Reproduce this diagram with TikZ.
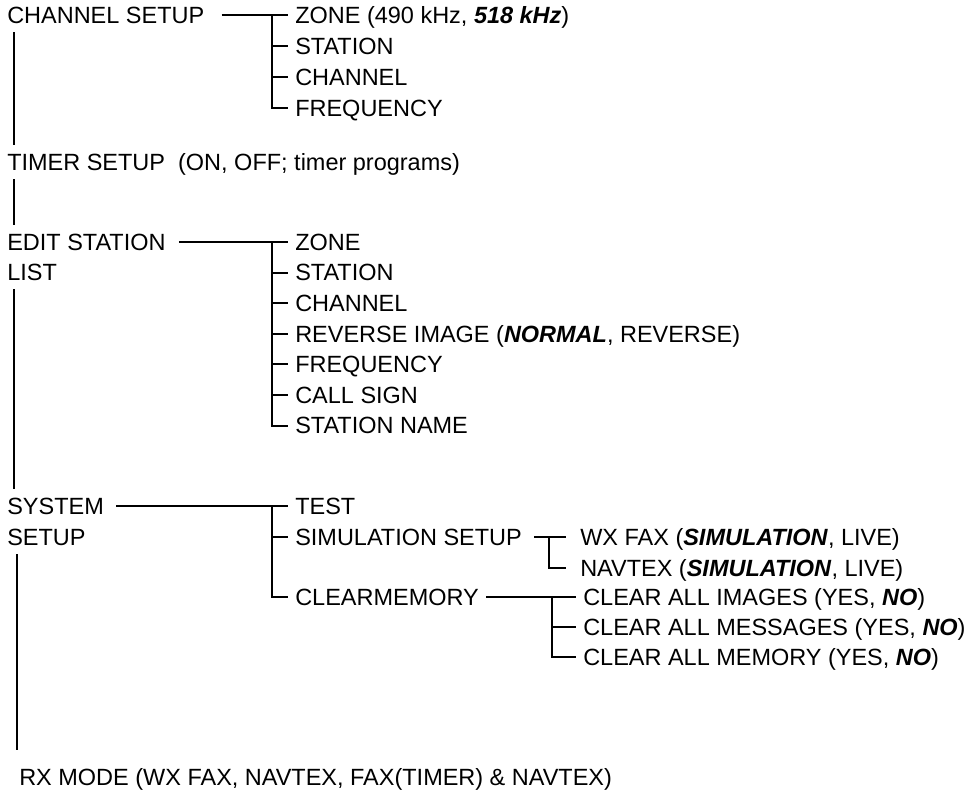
\documentclass[tikz,border=0pt]{standalone}
\usepackage{fontspec}
\setmainfont{Liberation Sans}
\usepackage{tikz}
\usetikzlibrary{positioning}
\newcommand{\bitxt}[1]{\textbf{\textit{#1}}}
\tikzset{
  item/.style={anchor=west, inner xsep=0.175cm, inner ysep=0.22cm,
    text height=0.42cm, text depth=0pt,
    font=\fontsize{16.7}{20}\selectfont},
  branch/.style={line width=1.4pt, color=black}
}

\begin{document}
\begin{tikzpicture}
  \useasboundingbox (0,0) rectangle (24.325,-19.9);

  % Main menu
  \node[item] (chs) at (0, -0.375) {CHANNEL SETUP};
  \node[item] (timer) at (0, -4.05) {TIMER SETUP\ \ (ON, OFF; timer programs)};
  \node[item] (edit) at (0, -6.05) {EDIT STATION};
  \node[item] (editb) at (0, -6.8) {LIST};
  \node[item] (sys) at (0, -12.65) {SYSTEM};
  \node[item] (sysb) at (0, -13.425) {SETUP};
  \node[item] (rx) at (0.3, -19.425) {RX MODE (WX FAX, NAVTEX, FAX(TIMER) \& NAVTEX)};

  % Trunk
  \coordinate (tk) at (0.35, 0);
  \coordinate (tkb) at (0.425, 0);
  \coordinate (rxtop) at ([yshift=0.25cm]rx.north);
  \draw[branch] (tk |- chs.south) -- (tk |- timer.north);
  \draw[branch] (tk |- timer.south) -- (tk |- edit.north);
  \draw[branch] (tk |- editb.south) -- (tk |- sys.north);
  \draw[branch] (tkb |- sysb.south) -- (tkb |- rxtop);

  % Channel setup
  \node[item] (c1) at (7.2, -0.375) {ZONE (490 kHz, \bitxt{518 kHz})};
  \node[item] (c2) at (7.2, -1.15) {STATION};
  \node[item] (c3) at (7.2, -1.925) {CHANNEL};
  \node[item] (c4) at (7.2, -2.7) {FREQUENCY};
  \coordinate (cbar) at (6.8, 0);
  \draw[branch] ([xshift=0.25cm]chs.east) -- (c1.west);
  \draw[branch] (cbar |- c1.west) |- (c4.west);
  \foreach \n in {c2, c3}
    \draw[branch] (cbar |- \n.west) -- (\n.west);

  % Edit station list
  \node[item] (e1) at (7.2, -6.05) {ZONE};
  \node[item] (e2) at (7.2, -6.815) {STATION};
  \node[item] (e3) at (7.2, -7.58) {CHANNEL};
  \node[item] (e4) at (7.2, -8.345) {REVERSE IMAGE (\bitxt{NORMAL}, REVERSE)};
  \node[item] (e5) at (7.2, -9.11) {FREQUENCY};
  \node[item] (e6) at (7.2, -9.875) {CALL SIGN};
  \node[item] (e7) at (7.2, -10.64) {STATION NAME};
  \coordinate (ebar) at (6.8, 0);
  \draw[branch] ([xshift=0.15cm]edit.east) -- (e1.west);
  \draw[branch] (ebar |- e1.west) |- (e7.west);
  \foreach \n in {e2, e3, e4, e5, e6}
    \draw[branch] (ebar |- \n.west) -- (\n.west);

  % System setup
  \node[item] (s1) at (7.2, -12.65) {TEST};
  \node[item] (s2) at (7.2, -13.425) {SIMULATION SETUP};
  \node[item] (s3) at (7.2, -14.925) {CLEARMEMORY};
  \coordinate (sbar) at (6.8, 0);
  \draw[branch] ([xshift=0.125cm]sys.east) -- (s1.west);
  \draw[branch] (sbar |- s1.west) |- (s3.west);
  \draw[branch] (sbar |- s2.west) -- (s2.west);

  % Simulation setup
  \node[item, inner xsep=0.35cm] (m1) at (14.15, -13.425) {WX FAX (\bitxt{SIMULATION}, LIVE)};
  \node[item, inner xsep=0.35cm] (m2) at (14.15, -14.2) {NAVTEX (\bitxt{SIMULATION}, LIVE)};
  \coordinate (mbar) at (13.725, 0);
  \draw[branch] ([xshift=0.125cm]s2.east) -- (m1.west);
  \draw[branch] (mbar |- m1.west) |- (m2.west);

  % Clear memory
  \node[item] (r1) at (14.4, -14.925) {CLEAR ALL IMAGES (YES, \bitxt{NO})};
  \node[item] (r2) at (14.4, -15.675) {CLEAR ALL MESSAGES (YES, \bitxt{NO})};
  \node[item] (r3) at (14.4, -16.425) {CLEAR ALL MEMORY (YES, \bitxt{NO})};
  \coordinate (rbar) at (13.8, 0);
  \draw[branch] (s3.east) -- (r1.west);
  \draw[branch] (rbar |- r1.west) |- (r3.west);
  \draw[branch] (rbar |- r2.west) -- (r2.west);
\end{tikzpicture}
\end{document}
